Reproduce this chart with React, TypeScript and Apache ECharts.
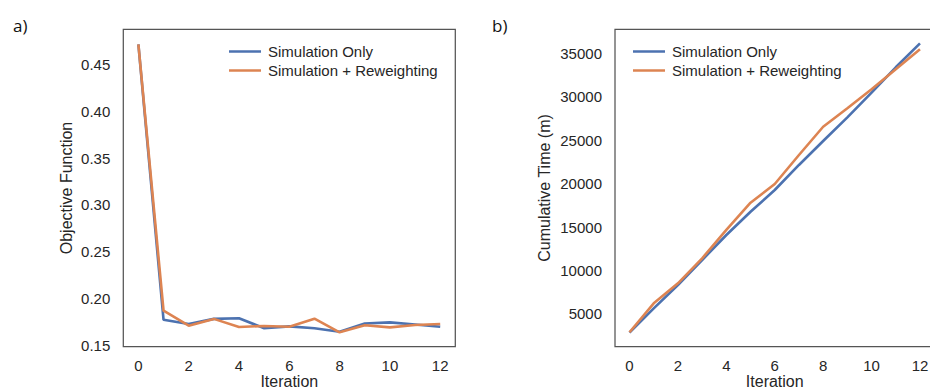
import React, { useEffect, useRef } from "react";
import * as echarts from "echarts";

const iterations = [0, 1, 2, 3, 4, 5, 6, 7, 8, 9, 10, 11, 12];
const objSimOnly = [0.472, 0.177, 0.1725, 0.178, 0.1786, 0.168, 0.170, 0.168, 0.1643, 0.173, 0.1743, 0.172, 0.1696];
const objReweight = [0.472, 0.1868, 0.1707, 0.178, 0.1693, 0.1704, 0.1696, 0.1782, 0.1636, 0.1711, 0.1689, 0.1714, 0.1725];
const timeSimOnly = [2850, 5650, 8340, 11210, 14090, 16770, 19270, 22150, 24910, 27630, 30470, 33390, 36150];
const timeReweight = [2900, 6230, 8530, 11410, 14670, 17810, 19960, 23300, 26550, 28670, 30860, 33160, 35460];
const xTicks = [0, 2, 4, 6, 8, 10, 12];
const objTicks = [0.15, 0.2, 0.25, 0.3, 0.35, 0.4, 0.45];
const timeTicks = [5000, 10000, 15000, 20000, 25000, 30000, 35000];
const seriesNames = ["Simulation Only", "Simulation + Reweighting"];
const colors = ["#4C72B0", "#DD8452"];

const FONT = "Liberation Sans, Arial, sans-serif";
const TXT = "#262626";

export default function App() {
  const ref = useRef<HTMLDivElement>(null);
  useEffect(() => {
    if (!ref.current) return;
    const chart = echarts.init(ref.current, undefined, { renderer: "svg" });
    const xAxisBase = (gridIndex: number) => ({
      type: "value" as const,
      gridIndex,
      min: -0.6,
      max: 12.6,
      axisLine: { show: false },
      axisTick: { show: false },
      splitLine: { show: false },
      axisLabel: {
        customValues: xTicks,
        fontSize: 15,
        color: TXT,
        fontFamily: FONT,
        margin: 11,
      },
      name: "Iteration",
      nameLocation: "middle" as const,
      nameGap: 27,
      nameMoveOverlap: false,
      nameTextStyle: { fontSize: 16, color: TXT, fontFamily: FONT },
    });
    const legendBase = (left: number) => ({
      orient: "vertical" as const,
      left,
      top: 39,
      icon: "rect",
      itemWidth: 32,
      itemHeight: 2.5,
      itemGap: 4,
      data: seriesNames,
      formatter: (name: string) => "{t|" + name + "}",
      textStyle: {
        fontSize: 15,
        color: TXT,
        fontFamily: FONT,
        rich: { t: { fontSize: 15, color: TXT, fontFamily: FONT, padding: [0, 0, 0, 2], height: 18 } },
      },
    });
    const line = (name: string, data: number[], idx: number, color: string) => ({
      type: "line" as const,
      name,
      xAxisIndex: idx,
      yAxisIndex: idx,
      data: iterations.map((x, i) => [x, data[i]]),
      symbol: "none",
      lineStyle: { width: 2.6, color },
      itemStyle: { color },
    });
    const gridBase = (left: number, width: number) => ({
      left,
      top: 29.3,
      width,
      height: 317.4,
      show: true,
      borderColor: "#555",
      borderWidth: 1.25,
      backgroundColor: "transparent",
      containLabel: false,
      outerBoundsMode: "none",
    });
    chart.setOption({
      animation: false,
      color: colors,
      title: [
        { text: "a)", left: 8, top: 12, textStyle: { fontSize: 17, fontWeight: "normal", color: "#111", fontFamily: "Open Sans, sans-serif" } },
        { text: "b)", left: 487, top: 12, textStyle: { fontSize: 17, fontWeight: "normal", color: "#111", fontFamily: "Open Sans, sans-serif" } },
      ],
      legend: [legendBase(224), legendBase(628)],
      grid: [gridBase(123.3, 332), gridBase(615, 319.5)],
      xAxis: [xAxisBase(0), xAxisBase(1)],
      yAxis: [
        {
          type: "value",
          gridIndex: 0,
          min: 0.1482,
          max: 0.4882,
          axisLine: { show: false },
          axisTick: { show: false },
          splitLine: { show: false },
          axisLabel: {
            customValues: objTicks,
            formatter: (v: number) => v.toFixed(2),
            fontSize: 15,
            color: TXT,
            fontFamily: FONT,
            margin: 13,
          },
          name: "Objective Function",
          nameLocation: "middle",
          nameGap: 49,
          nameTextStyle: { fontSize: 16, color: TXT, fontFamily: FONT },
        },
        {
          type: "value",
          gridIndex: 1,
          min: 1237,
          max: 37762,
          axisLine: { show: false },
          axisTick: { show: false },
          splitLine: { show: false },
          axisLabel: {
            customValues: timeTicks,
            formatter: (v: number) => String(Math.round(v)),
            fontSize: 15,
            color: TXT,
            fontFamily: FONT,
            margin: 13,
          },
          name: "Cumulative Time (m)",
          nameLocation: "middle",
          nameGap: 63,
          nameTextStyle: { fontSize: 16, color: TXT, fontFamily: FONT },
        },
      ],
      series: [
        line(seriesNames[0], objSimOnly, 0, colors[0]),
        line(seriesNames[1], objReweight, 0, colors[1]),
        line(seriesNames[0], timeSimOnly, 1, colors[0]),
        line(seriesNames[1], timeReweight, 1, colors[1]),
      ],
    });
    return () => chart.dispose();
  }, []);
  return <div ref={ref} style={{ position: "fixed", left: 0, top: 0, width: 930, height: 392, background: "#fff" }} />;
}
